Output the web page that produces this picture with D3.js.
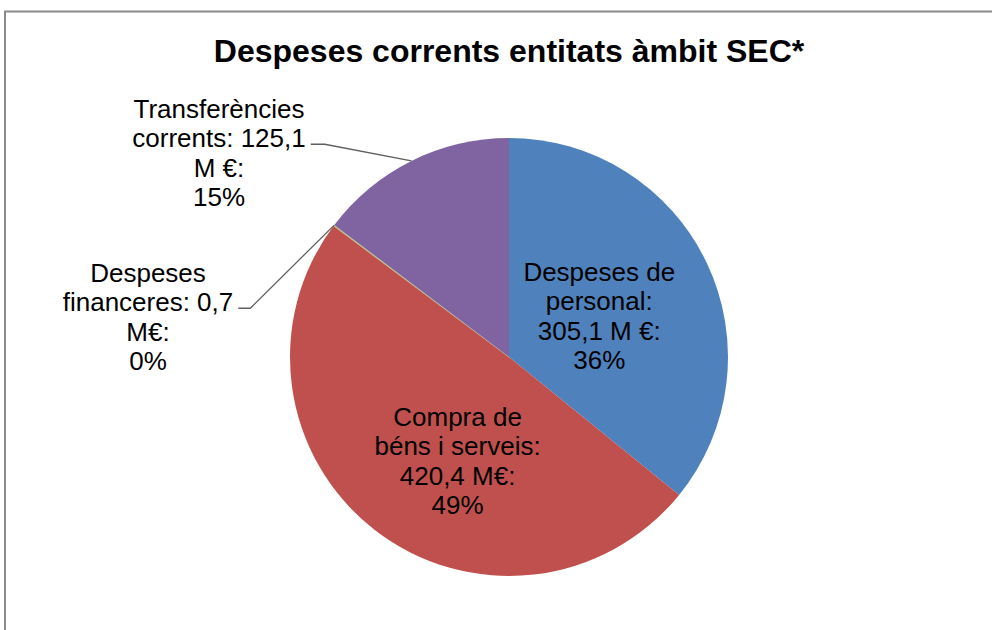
<!DOCTYPE html>
<html>
<head>
<meta charset="utf-8">
<script src="https://cdn.jsdelivr.net/npm/d3@7"></script>
<style>
  body { margin: 0; background: #fff; }
  svg { display: block; font-family: "Liberation Sans", Arial, sans-serif; }
</style>
</head>
<body>
<script>
// Chart data
var categories = ["Despeses de personal", "Compra de béns i serveis", "Despeses financeres", "Transferències corrents"];
var values = [305.1, 420.4, 0.7, 125.1];
var colors = ["#4F81BD", "#C0504D", "#9BBB59", "#8064A2"];
// label lines as wrapped in the original ({v} = value, {p} = percent)
var labelLines = [
    ["Despeses de", "personal:", "{v} M €:", "{p}"],
    ["Compra de", "béns i serveis:", "{v} M€:", "{p}"],
    ["Despeses", "financeres: {v}", "M€:", "{p}"],
    ["Transferències", "corrents: {v}", "M €:", "{p}"]
];

var width = 992, height = 630;
var cx = 509, cy = 357, radius = 219;

var svg = d3.select("body").append("svg")
    .attr("width", width)
    .attr("height", height);

// outer frame (only top and left edges visible)
svg.append("path")
    .attr("d", "M5," + height + "V11.5H" + width)
    .attr("fill", "none")
    .attr("stroke", "#8a8a8a")
    .attr("stroke-width", 2);

svg.append("text")
    .attr("x", cx)
    .attr("y", 62)
    .attr("text-anchor", "middle")
    .attr("font-size", 32)
    .attr("font-weight", "bold")
    .text("Despeses corrents entitats àmbit SEC*");

var total = d3.sum(values);
var pie = d3.pie().sort(null).value(function(d) { return d; });
var arcs = pie(values);
var arc = d3.arc().innerRadius(0).outerRadius(radius);

var g = svg.append("g").attr("transform", "translate(" + cx + "," + cy + ")");

g.selectAll("path.slice")
    .data(arcs)
    .enter().append("path")
      .attr("class", "slice")
      .attr("d", arc)
      .attr("fill", function(d, i) { return colors[i]; })
      .attr("stroke", function(d, i) { return i == 2 ? "#c9c39a" : "none"; })
      .attr("stroke-width", 0.8);

var fmtV = function(v) { return d3.format(".1f")(v).replace(".", ","); };
var fmtP = function(v) { return Math.round(v / total * 100) + "%"; };

// label placement: inside labels at a radius along the mid angle, outside labels with leader lines
var placement = [
    { inside: true, r: 100, dx: 0, dy: 2 },
    { inside: true, r: 113, dx: 18, dy: 15 },
    { inside: false, labelX: -361, labelY: -40, elbow: 12 },
    { inside: false, labelX: -290, labelY: -204, elbow: 14 }
];

var lineH = 29.5;

arcs.forEach(function(d, i) {
    var p = placement[i];
    var mid = (d.startAngle + d.endAngle) / 2;
    var lx, ly;
    if (p.inside) {
        lx = Math.sin(mid) * p.r + p.dx;
        ly = -Math.cos(mid) * p.r + p.dy;
    } else {
        lx = p.labelX;
        ly = p.labelY;
    }
    var t = g.append("text")
        .attr("text-anchor", "middle")
        .attr("font-size", 26)
        .attr("fill", "#000");
    var spans = [];
    labelLines[i].forEach(function(s, k) {
        spans.push(t.append("tspan")
            .attr("x", lx)
            .attr("y", ly + (k - 1.5) * lineH + 9)
            .text(s.replace("{v}", fmtV(values[i])).replace("{p}", fmtP(values[i]))));
    });
    if (!p.inside) {
        // leader from end of the second line to the arc midpoint
        var len = spans[1].node().getComputedTextLength();
        var x0 = lx + len / 2 + 5;
        var y0 = ly + (-0.5) * lineH + 9 - 3;
        var ex = Math.sin(mid) * radius, ey = -Math.cos(mid) * radius;
        g.append("path")
            .attr("d", "M" + x0 + "," + y0 + "H" + (x0 + p.elbow) + "L" + ex + "," + ey)
            .attr("fill", "none")
            .attr("stroke", "#5f5f5f")
            .attr("stroke-width", 1.3);
    }
});
</script>
</body>
</html>
